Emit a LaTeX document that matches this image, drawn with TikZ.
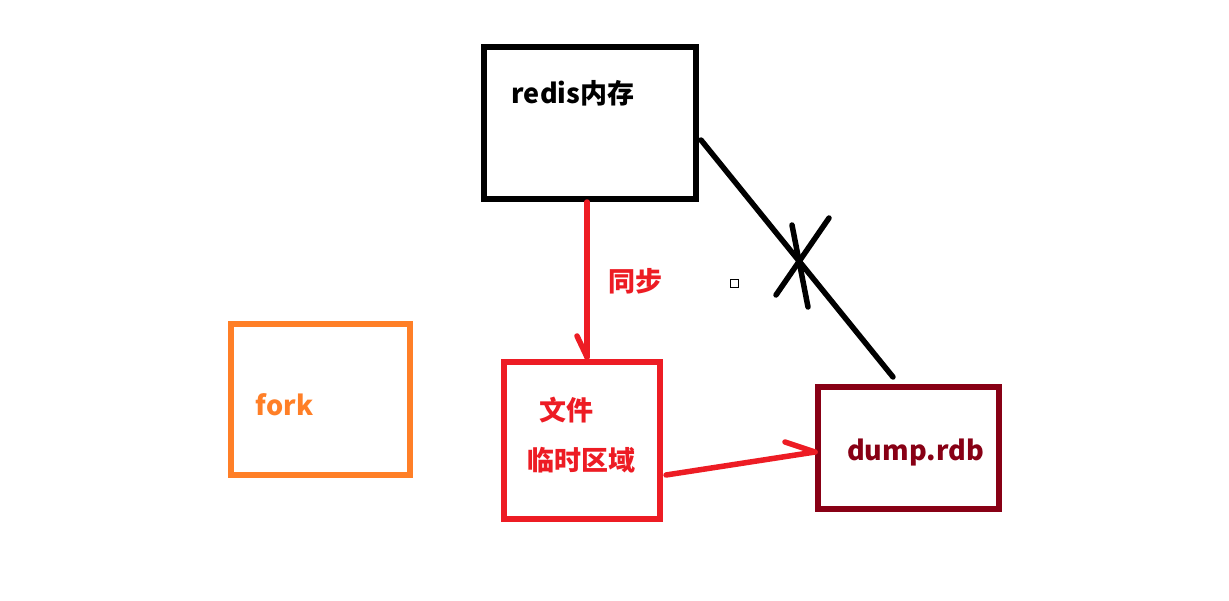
\documentclass[tikz,border=0pt]{standalone}
\usepackage{fontspec}
\setmainfont{Noto Sans CJK SC}
\usetikzlibrary{calc}
\definecolor{pred}{HTML}{ED1C24}
\definecolor{pdark}{HTML}{880015}
\definecolor{porange}{HTML}{FF7F27}
\begin{document}
\begin{tikzpicture}[x=1pt,y=-1pt,
  box/.style={draw,line width=6pt,rectangle,inner sep=0pt},
  lbl/.style={font=\fontsize{27}{32}\selectfont\bfseries,inner sep=0pt},
  link/.style={line width=5.5pt,line cap=round}]
\fill[white] (0,0) rectangle (1229,600);
\useasboundingbox (0,0) rectangle (1229,600);
% boxes
\node[box,black,minimum width=212pt,minimum height=152pt] (redis) at (590,123) {};
\node[box,pred,minimum width=156pt,minimum height=157pt] (tmp) at (582,440.5) {};
\node[box,pdark,minimum width=181pt,minimum height=122pt] (dump) at (908.5,448) {};
\node[box,porange,minimum width=179pt,minimum height=151pt] (fork) at (320.5,399.5) {};
% labels
\node[lbl,black] (tredis) at (573,93) {redis内存};
\node[lbl,pred] (tsync) at (635.5,281) {同步};
\node[lbl,pred] (tfile) at (566.5,410) {文件};
\node[lbl,pred] (ttmp) at (581.5,460) {临时区域};
\node[lbl,pdark] (tdump) at (915.5,453) {dump.rdb};
\node[lbl,porange] (tfork) at (284.5,405) {fork};
% small square
\node[draw,black,line width=1pt,minimum size=8pt,inner sep=0pt] (sq) at (734,283) {};
% arrow redis -> tmp
\coordinate (a1) at ($(redis.south)+(-3,0)$);
\coordinate (a2) at ($(tmp.north)+(5,-2)$);
\coordinate (h1) at (577,336);
\draw[pred,link] (a1) -- (a2);
\draw[pred,link] (h1) -- (a2);
% arrow tmp -> dump
\coordinate (b1) at ($(tmp.east)+(3,34.5)$);
\coordinate (b2) at ($(dump.west)+(0,4)$);
\coordinate (h2) at (785,442);
\draw[pred,link] (b1) -- (b2);
\draw[pred,link] (h2) -- (b2);
% black crossed line
\coordinate (c1) at ($(redis.east)+(2,17)$);
\coordinate (c2) at ($(dump.north)+(-15.5,-7)$);
\draw[black,link] (c1) -- (c2);
\coordinate (x1) at (792,225);
\coordinate (x2) at (808,307);
\coordinate (x3) at (829,218);
\coordinate (x4) at (776,295);
\draw[black,link] (x1) -- (x2);
\draw[black,link] (x3) -- (x4);
\end{tikzpicture}
\end{document}
